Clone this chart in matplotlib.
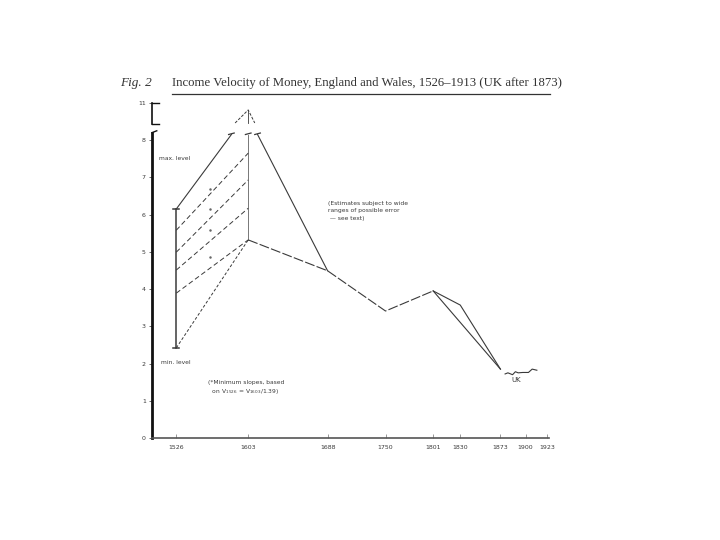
import matplotlib
matplotlib.use("Agg")
import matplotlib.pyplot as plt
from matplotlib.lines import Line2D

# x-axis ticks (years) and y-axis ticks (axis broken above 8, "11" drawn at 9)
tick_years = [1526, 1603, 1688, 1750, 1801, 1830, 1873, 1900, 1923]
ytick_pos = [0, 1, 2, 3, 4, 5, 6, 7, 8, 9]
ytick_labels = ["0", "1", "2", "3", "4", "5", "6", "7", "8", "11"]

# 1526 range bar (min / max level)
bar_year = 1526
bar_min = 2.42
bar_max = 6.15

# max-level line going off scale, 1603 range line, line back down to 1688
top_years = [1526, 1585]
top_vel = [6.15, 8.15]
v1603_years = [1603, 1603]
v1603_vel = [5.32, 8.15]
down_years = [1613, 1688]
down_vel = [8.15, 4.49]
break_years = [1585, 1603, 1613]
break_vel = [8.15, 8.15, 8.15]

# peak above the axis break (plotted on the compressed upper scale)
peak_years = [1589, 1603, 1610]
peak_vel = [8.46, 8.81, 8.46]

# minimum slopes 1526 -> 1603
slope_start = [5.58, 4.99, 4.51, 3.89]
slope_end = [7.65, 6.93, 6.17, 5.32]
dot_year = 1562
dot_vel = [6.68, 6.15, 5.58, 4.86]

# min level line
min_years = [1526, 1603]
min_vel = [2.42, 5.32]

# main series
main_years = [1603, 1688, 1750, 1801]
main_vel = [5.32, 4.49, 3.41, 3.95]
upper_years = [1801, 1830, 1873]
upper_vel = [3.95, 3.57, 1.85]
lower_years = [1801, 1873]
lower_vel = [3.95, 1.85]

# UK after 1873
uk_years = [1878, 1881, 1886, 1889, 1892, 1897, 1903, 1907, 1912]
uk_vel = [1.72, 1.75, 1.70, 1.78, 1.75, 1.76, 1.76, 1.85, 1.82]

ink = "#3a3a3a"
fig = plt.figure(figsize=(7.2, 5.4), dpi=100)
ax = fig.add_axes([152 / 720, 102 / 540, 397 / 720, 337 / 540])
ax.set_xlim(1500, 1925)
ax.set_ylim(0, 9.05)

# range bar with caps
ax.plot([bar_year, bar_year], [bar_min, bar_max], color=ink, lw=1.1)
ax.plot([bar_year - 3, bar_year + 3], [bar_min, bar_min], color=ink, lw=1.1)
ax.plot([bar_year - 3, bar_year + 3], [bar_max, bar_max], color=ink, lw=1.1)

ax.plot(top_years, top_vel, color=ink, lw=0.8)
ax.plot(v1603_years, v1603_vel, color="#777777", lw=0.7)
ax.plot(down_years, down_vel, color=ink, lw=0.8)
for bx, bv in zip(break_years, break_vel):
    ax.plot([bx - 3, bx + 3], [bv, bv + 0.04], color=ink, lw=0.9)

ax.plot(peak_years, peak_vel, color=ink, lw=0.7, dashes=(3, 1.5))
ax.plot([peak_years[1], peak_years[1]], [peak_vel[0], peak_vel[1]], color=ink, lw=0.6)

for s, e in zip(slope_start, slope_end):
    ax.plot([1526, 1603], [s, e], color=ink, lw=0.7, dashes=(5, 3))
ax.scatter([dot_year] * len(dot_vel), dot_vel, s=0.6, color="#666666")

ax.plot(min_years, min_vel, color=ink, lw=0.7, dashes=(3, 2))

ax.plot(main_years, main_vel, color=ink, lw=0.8, dashes=(9, 2))
ax.plot(upper_years, upper_vel, color=ink, lw=0.8)
ax.plot(lower_years, lower_vel, color=ink, lw=0.8)
ax.plot(uk_years, uk_vel, color=ink, lw=0.8)

# text annotations
small = dict(fontsize=4.3, color=ink, family="DejaVu Sans")
ax.text(1508, 7.5, "max. level", va="center", **small)
ax.text(1510, 2.03, "min. level", va="center", **small)
ax.text(1688, 6.1, "(Estimates subject to wide\nranges of possible error\n \u2014 see text)",
        va="center", linespacing=1.6, **small)
ax.text(1560, 1.35, "(*Minimum slopes, based\n  on V$_{1526}$ = V$_{1603}$/1.39)",
        va="center", linespacing=1.4, **small)
ax.text(1890, 1.55, "UK", fontsize=5, color=ink, ha="center", va="center")

# axes styling
for side in ["top", "right"]:
    ax.spines[side].set_visible(False)
ax.spines["left"].set_bounds(0, 8.2)
ax.spines["left"].set_linewidth(2.0)
ax.spines["left"].set_color("#111111")
ax.spines["bottom"].set_linewidth(1.2)
ax.spines["bottom"].set_color("#555555")

# upper bracket of broken y axis
ytr = ax.get_yaxis_transform()
ax.plot([0, 0], [8.43, 9.0], color="#111111", lw=1.2, transform=ytr, clip_on=False)
ax.plot([0, 0.018], [9.0, 9.0], color="#111111", lw=1.0, transform=ytr, clip_on=False)
ax.plot([0, 0.018], [8.43, 8.43], color="#111111", lw=1.0, transform=ytr, clip_on=False)
ax.plot([0, 0.012], [8.2, 8.25], color="#111111", lw=1.0, transform=ytr, clip_on=False)

ax.set_xticks(tick_years)
ax.set_xticklabels([str(y) for y in tick_years])
ax.set_yticks(ytick_pos)
ax.set_yticklabels(ytick_labels)
ax.tick_params(axis="x", direction="in", length=3, width=0.6, color="#888888",
               labelsize=4.5, labelcolor=ink, pad=5)
ax.tick_params(axis="y", direction="out", length=2.5, width=0.6, color="#555555",
               labelsize=4.5, labelcolor=ink, pad=2)

# title with underline
fig.text(120 / 720, 1 - 83 / 540, "Fig. 2", fontsize=9.5, style="italic",
         family="Liberation Serif", color="#333333", va="center")
fig.text(172 / 720, 1 - 83 / 540,
         "Income Velocity of Money, England and Wales, 1526\u20131913 (UK after 1873)",
         fontsize=9.2, family="Liberation Serif", color="#333333", va="center")
fig.add_artist(Line2D([172 / 720, 550 / 720], [1 - 94 / 540, 1 - 94 / 540],
                      color="#333333", lw=0.9))

fig.savefig("out.png", dpi=100, facecolor="white")
